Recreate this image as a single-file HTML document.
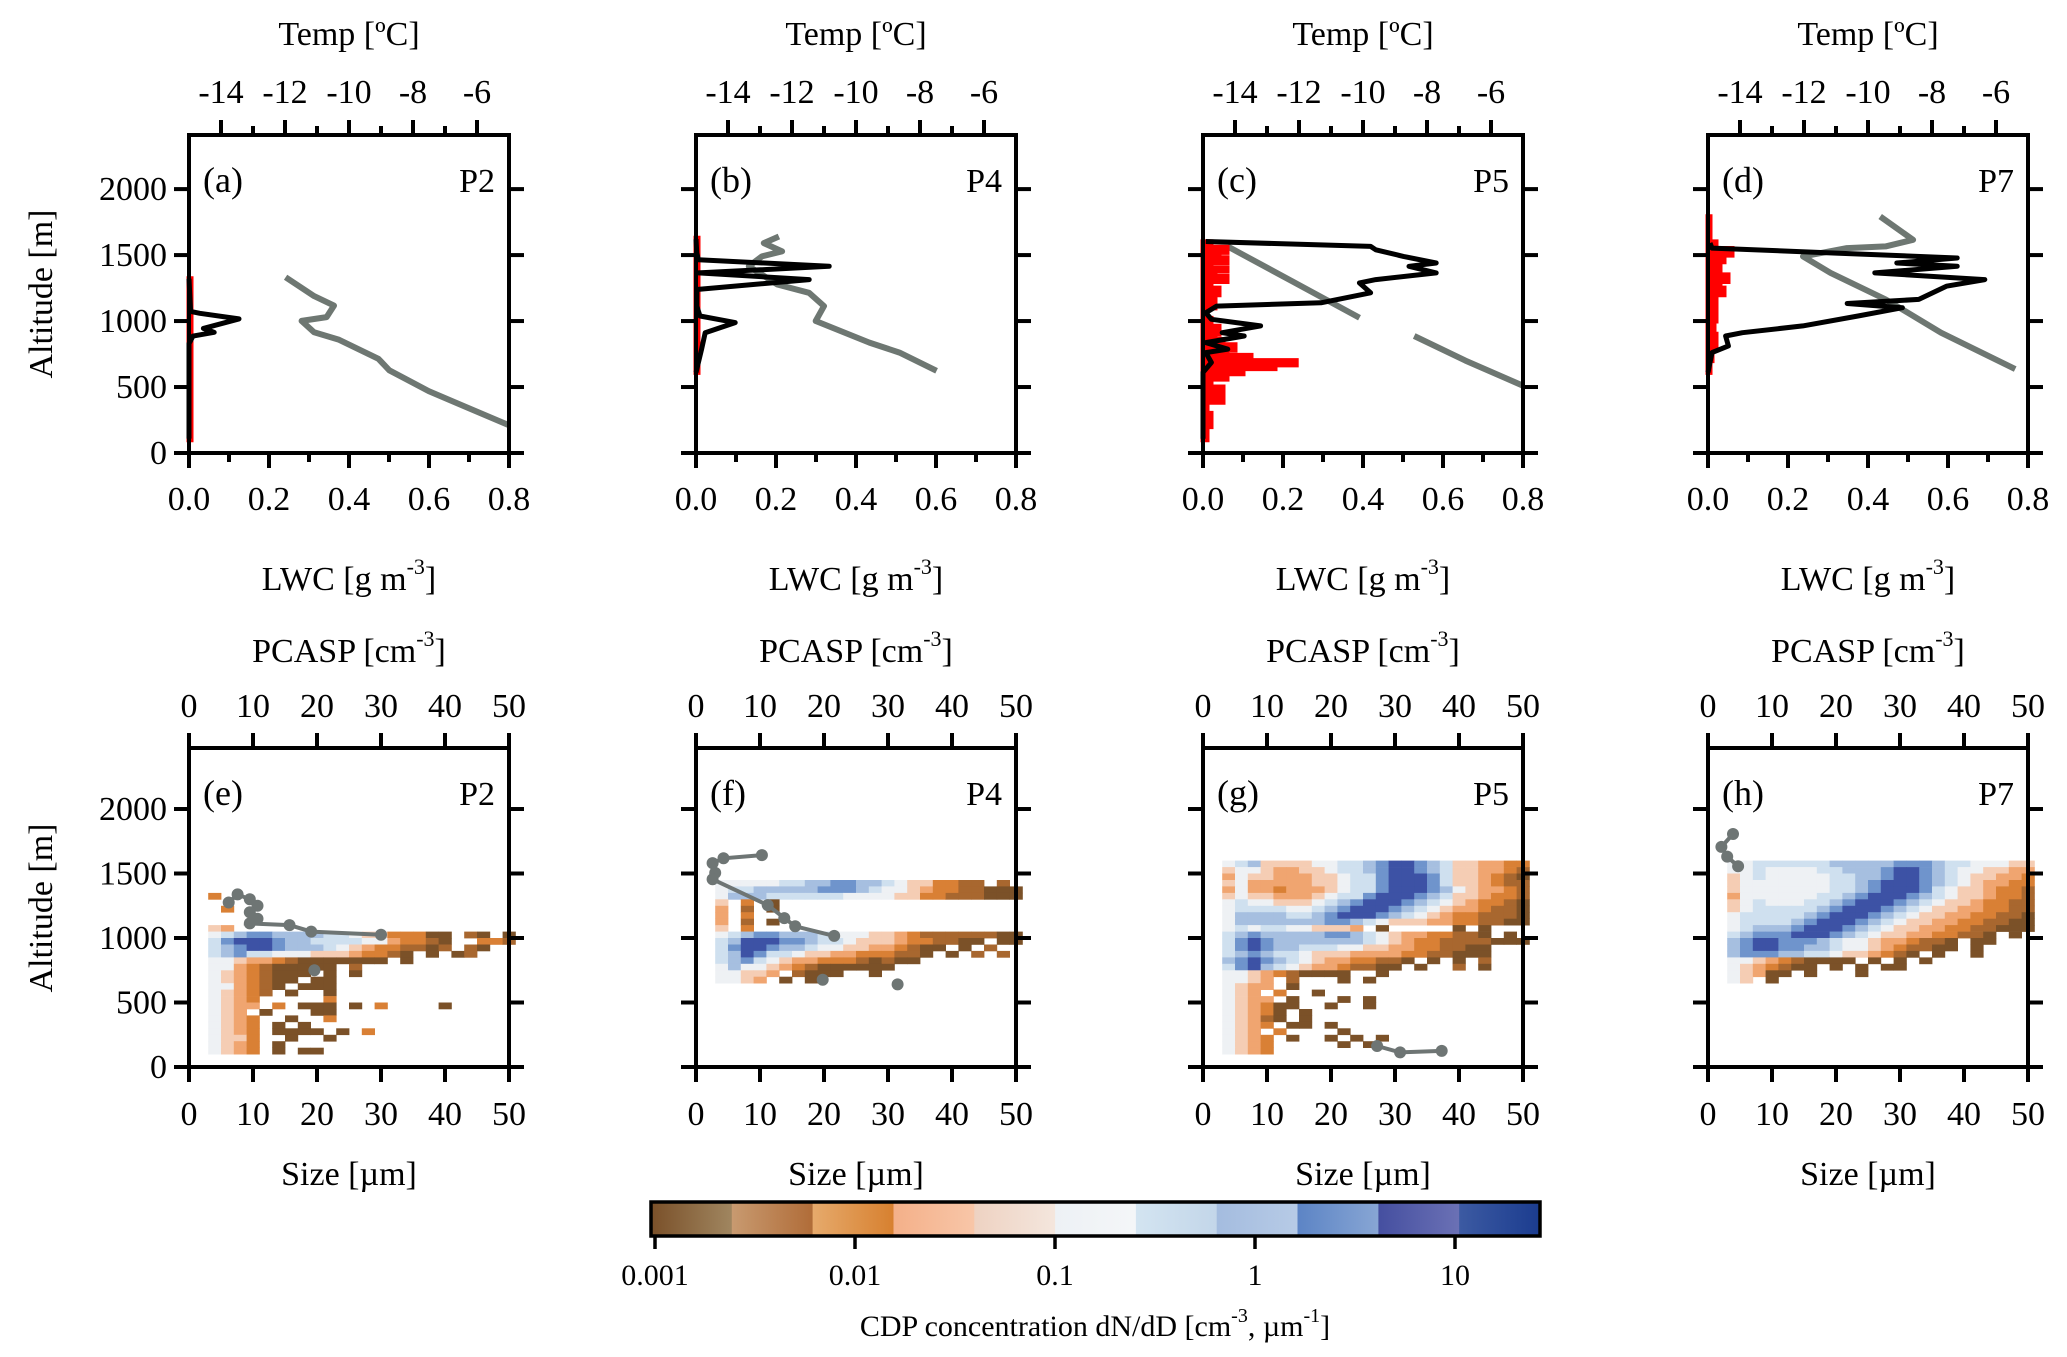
<!DOCTYPE html>
<html><head><meta charset="utf-8">
<style>
html,body{margin:0;padding:0;background:#fff;}
svg{display:block;}
svg text{fill:#000;font-family:"Liberation Serif","DejaVu Serif",serif;}
</style></head>
<body>
<svg id="fig" width="2067" height="1357" viewBox="0 0 2067 1357" xmlns="http://www.w3.org/2000/svg" font-family="Liberation Serif, serif">
<defs id="defs"></defs>
</svg>
<script>
// ---------- DATA ----------
const panelIds = ['a','b','c','d'];
const flightIds = ['P2','P4','P5','P7'];
const lwcTicks = ['0.0','0.2','0.4','0.6','0.8'];
const tempTicks = ['-14','-12','-10','-8','-6'];
const altTicks = ['0','500','1000','1500','2000'];
const sizeTicks = ['0','10','20','30','40','50'];
const cbarTicks = ['0.001','0.01','0.1','1','10'];

const lwcAltA = [109,829,886,915,944,1016,1059,1073,1320];
const lwcValA = [0,0,0.01,0.063,0.036,0.125,0.027,0.004,0];
const lwcAltB = [611,787,912,988,1038,1113,1239,1314,1365,1415,1465,1515,1620];
const lwcValB = [0,0.014,0.023,0.098,0.01,0.002,0.002,0.283,0.006,0.333,0.006,0.002,0];
const lwcAltC = [108,611,686,761,787,837,887,912,963,1013,1063,1113,1138,1214,1289,1314,1365,1415,1440,1490,1540,1566,1603];
const lwcValC = [0,0,0.021,0.007,0.062,0.007,0.103,0.048,0.144,0.021,0.007,0.034,0.295,0.419,0.391,0.432,0.583,0.515,0.583,0.501,0.432,0.419,0.007];
const lwcAltD = [611,761,812,887,912,963,1038,1101,1133,1164,1264,1314,1365,1415,1440,1478,1515,1553,1591];
const lwcValD = [0,0.01,0.051,0.044,0.086,0.237,0.375,0.486,0.348,0.527,0.596,0.692,0.417,0.623,0.472,0.623,0.32,0.01,0.005];

const redAltA = [100,130,870,1320];
const redValA = [0.005,0.005,0.005,0.005];
const redAltB = [611,1628];
const redValB = [0.005,0.005];
const redAltC = [100,200,300,384,420,450,500,560,600,640,668,700,740,780,820,860,900,960,1020,1100,1200,1250,1300,1340,1380,1400,1440,1480,1520,1560,1600];
const redValC = [0.01,0.02,0.01,0.05,0.02,0.05,0.02,0.06,0.1,0.18,0.233,0.12,0.06,0.08,0.05,0.03,0.04,0.02,0.01,0.03,0.04,0.02,0.06,0.03,0.06,0.02,0.06,0.04,0.06,0.02,0.01];
const redAltD = [611,700,800,900,1000,1100,1200,1250,1300,1350,1400,1450,1500,1550,1600,1790];
const redValD = [0.005,0.01,0.02,0.015,0.02,0.02,0.04,0.03,0.05,0.03,0.03,0.04,0.06,0.02,0.005,0.005];

const tAltA = [1332,1189,1117,1030,1001,915,858,714,627,469,354,210];
const tValA = [-11.98,-11.09,-10.47,-10.70,-11.48,-11.09,-10.31,-9.08,-8.74,-7.51,-6.40,-5.0];
const tAltB = [1641,1591,1528,1490,1415,1277,1214,1113,1000,837,761,623];
const tValB = [-12.41,-12.88,-12.31,-12.94,-13.35,-12.46,-11.47,-11.0,-11.26,-9.58,-8.64,-7.48];
const tAltC = [1566,1300,1025,null,887,700,510];
const tValC = [-14.23,-12.2,-10.11,null,-8.40,-6.8,-5.0];
const tAltD = [1792,1616,1566,1553,1490,1365,1164,912,636];
const tValD = [-9.62,-8.59,-9.45,-10.66,-12.03,-11.17,-9.45,-7.72,-5.40];

const pcAltE = [1275,1338,1300,1250,1200,1150,1113,1100,1050,1025];
const pcValE = [6.2,7.6,9.5,10.7,9.5,10.7,9.5,15.7,19.1,30.0];
const pcAltE2 = [750];
const pcValE2 = [19.6];
const pcAltF = [1643,1618,1581,1505,1455,1255,1154,1091,1016];
const pcValF = [10.3,4.3,2.6,3.0,2.6,11.2,13.8,15.5,21.6];
const pcAltF2 = [677,640];
const pcValF2 = [19.8,31.5];
const pcAltG = [163,113,125];
const pcValG = [27.2,30.8,37.3];
const pcAltH = [1806,1706,1631,1556];
const pcValH = [3.9,2.1,3.0,4.7];

// CDP heatmaps: rows top-down (50 m each), char = level per 2 µm bin from 3 µm
const hmTopE = 1350;
const hmRowsE = ["2.......................","........................",".2......................","........................","........................","43......................",
"5678877776654422200.10.0","6899987766665532210..221","6789987776543221101.10..","6786655544432210.0.01...","55433210000000.0........",
"5532100000.1............","54321000.0.0............","5432100.00..............","553210.000..............","54321.0..0..............",
"5432.....2..............","5433.2.000.0.2....0.....","543.0...00..............","5432..0..2..............","5432.0.0................",
"5432.0000.0.2...........","5442..0..0..............","5432.0..................","5432.0.00..............."];
const hmTopF = 1450;
const hmRowsF = ["555556677887765442211.1.","566777778887655432211000","577766666655554422111000","4.2.0...................","3.1.0...................",
"3.2.....................","3.1.0...................","4.2.....................","567887776555443211111100","679998876654443221100.00",
"689987765544332100.0.1..","67986654433222110.0.1.1.","6786543322210100........","57554321000000..........","55443.1000..0...........","5543.0.0................"];
const hmTopG = 1600;
const hmRowsG = ["567444455667899876443322","455433445667899876443321","354433344566899986443210","453333344566899986443211",
"353323334566899987543321","454433345668999876443221","565544456789998765432210","566665567899987654332110",
"577776678999876543221110","577777778876544433221100","56566554443.0.....0.0...","678777778876543322110.0.",
"689877777776543221111000","689877666554433221100...","678766544433332211000...","789876543322110.0.0.1..",
"68976543321100.0..1.0...","5543210000..0...........","5543.1...0.0............","5433.0..................",
"543.2..0................","5433.0...0.0............","543200..0..0............","54320.0.................",
"54310.0.................","5432.00.0...............","543.2....0..............","5432.0..0.0.0...........",
"5432.....0.0............","5432...................."];
const hmTopH = 1600;
const hmRowsH = ["556666667777788876655544","556555566777899876554433","456555556677899876544332","455555556678999876543322",
"455555556678999865443221","355555566789998765443221","456555667899987654432211","456666678999876544332211",
"566666789998765443322110","566667899987654433221100","567778999876544332211000","678889998765443322110.0.",
"789988876554332110.00...","789988776554321100.0....","788877665443210.0..0....","5543210000.0.0.0........",
"5432100.0.0.00..........","54300.0...0.............","54.0...................."];

// ---------- LAYOUT ----------
const svg = document.getElementById('fig');
const NS = 'http://www.w3.org/2000/svg';
const colX = [189, 696, 1203, 1708];
const PW = 320;
const topY0 = 135, topY1 = 453, topAltMax = 2410;
const botY0 = 748, botY1 = 1067, botAltMax = 2473;
const levelColors = ['#7b5128','#a8672f','#d98035','#f0a570','#f5cdb4','#eef1f4','#cfe0ef','#a6bfe0','#6f94cc','#3d52a5','#1e3a8f'];
const FONT = '"Liberation Serif", "DejaVu Serif", serif';

function mk(tag, attrs, parent){
  const e = document.createElementNS(NS, tag);
  for (const k in attrs) e.setAttribute(k, attrs[k]);
  if (tag === 'text') e.style.fontFamily = FONT;
  (parent||svg).appendChild(e);
  return e;
}
function txt(s, x, y, size, anchor, parent){
  const t = mk('text', {x:x, y:y, 'font-size':size, 'text-anchor':anchor||'middle'}, parent);
  t.textContent = s;
  return t;
}

function axisFrame(g, x0, y0, x1, y1, altMax, showYLabels){
  const fr = mk('rect', {x:x0, y:y0, width:x1-x0, height:y1-y0, fill:'none', stroke:'#000', 'stroke-width':4}, g);
  
  
  altTicks.forEach(function(lab){
    const v = +lab;
    const y = y1 - v/altMax*(y1-y0);
    mk('line', {x1:x0-15, x2:x0, y1:y, y2:y, stroke:'#000', 'stroke-width':4}, g);
    mk('line', {x1:x1, x2:x1+15, y1:y, y2:y, stroke:'#000', 'stroke-width':4}, g);
    if (showYLabels) {
      const t = txt(lab, 167, y+11, 34, 'end', g);
      
      
    }
  });
}

// ---------- TOP ROW ----------
const lwcAlts = [lwcAltA,lwcAltB,lwcAltC,lwcAltD], lwcVals = [lwcValA,lwcValB,lwcValC,lwcValD];
const redAlts = [redAltA,redAltB,redAltC,redAltD], redVals = [redValA,redValB,redValC,redValD];
const tAlts = [tAltA,tAltB,tAltC,tAltD], tVals = [tValA,tValB,tValC,tValD];

for (let p=0;p<4;p++){
  const x0 = colX[p], x1 = x0+PW;
  const g = mk('g', {});
  
  
  const xl = v => x0 + v/0.8*PW;
  const xt = v => x0 + (v+15)/10*PW;
  const ya = v => topY1 - v/topAltMax*(topY1-topY0);

  let d = '', pen = false;
  for (let i=0;i<tAlts[p].length;i++){
    if (tAlts[p][i]===null){ pen=false; continue; }
    d += (pen?'L':'M') + xt(tVals[p][i]).toFixed(1) + ' ' + ya(tAlts[p][i]).toFixed(1) + ' ';
    pen = true;
  }
  const tl = mk('path', {d:d, fill:'none', stroke:'#6e7772', 'stroke-width':6, 'stroke-linejoin':'round'}, g);
  
  

  let dr = 'M'+x0+' '+ya(redAlts[p][0]).toFixed(1)+' ';
  for (let i=0;i<redAlts[p].length;i++){
    const x = xl(redVals[p][i]), y = ya(redAlts[p][i]);
    dr += 'V'+y.toFixed(1)+' H'+x.toFixed(1)+' ';
  }
  dr += 'V'+ya(redAlts[p][redAlts[p].length-1]).toFixed(1)+' H'+x0+' Z';
  const rl = mk('path', {d:dr, fill:'#ff0000', stroke:'#ff0000', 'stroke-width':5, 'stroke-linejoin':'miter'}, g);
  
  

  let dl = '';
  for (let i=0;i<lwcAlts[p].length;i++){
    dl += (i?'L':'M') + xl(lwcVals[p][i]).toFixed(1) + ' ' + ya(lwcAlts[p][i]).toFixed(1) + ' ';
  }
  const ll = mk('path', {d:dl, fill:'none', stroke:'#000', 'stroke-width':5, 'stroke-linejoin':'round'}, g);
  
  

  axisFrame(g, x0, topY0, x1, topY1, topAltMax, p===0);

  for (let k=0;k<=8;k++){
    const x = xl(k/10), len = (k%2===0)?15:9;
    mk('line', {x1:x, x2:x, y1:topY1, y2:topY1+len, stroke:'#000', 'stroke-width':4}, g);
  }
  lwcTicks.forEach(function(lab){
    const t = txt(lab, xl(+lab), 510, 34, 'middle', g);
    
    
  });
  for (let v=-14; v<=-6; v++){
    const x = xt(v), len = (v%2===0)?15:9;
    mk('line', {x1:x, x2:x, y1:topY0-len, y2:topY0, stroke:'#000', 'stroke-width':4}, g);
  }
  tempTicks.forEach(function(lab){
    const t = txt(lab, xt(+lab), 103, 34, 'middle', g);
    
    
  });
  const tt = txt('Temp [ºC]', (x0+x1)/2, 45, 34, 'middle', g);
  
  
  const lt = mk('text', {x:(x0+x1)/2, y:590, 'font-size':34, 'text-anchor':'middle'}, g);
  lt.innerHTML = 'LWC [g m<tspan dy="-16" font-size="22">-3</tspan><tspan dy="16">]</tspan>';
  
  
  const pl = txt('('+panelIds[p]+')', x0+14, topY0+57, 36, 'start', g);
  
  
  const fl = txt(flightIds[p], x1-14, topY0+57, 34, 'end', g);
  
  
}

// ---------- BOTTOM ROW ----------
const hmTops = [hmTopE,hmTopF,hmTopG,hmTopH], hmRows = [hmRowsE,hmRowsF,hmRowsG,hmRowsH];
const pcAlts = [pcAltE,pcAltF,pcAltG,pcAltH], pcVals = [pcValE,pcValF,pcValG,pcValH];
const pcAlts2 = [pcAltE2,pcAltF2,[],[]], pcVals2 = [pcValE2,pcValF2,[],[]];
const botIds = ['e','f','g','h'];

for (let p=0;p<4;p++){
  const x0 = colX[p], x1 = x0+PW;
  const g = mk('g', {});
  
  
  const xs = v => x0 + v/50*PW;
  const ya = v => botY1 - v/botAltMax*(botY1-botY0);

  const rows = hmRows[p];
  for (let r=0;r<rows.length;r++){
    const altTop = hmTops[p] - r*50;
    const s = rows[r];
    for (let i=0;i<Math.min(s.length,24);i++){
      const ch = s[i];
      if (ch==='.') continue;
      const lev = ch==='A'?10:parseInt(ch,10);
      const sz0 = 3+2*i;
      const yTop = ya(altTop), yBot = ya(altTop-50);
      const c = mk('rect', {x:xs(sz0).toFixed(1), y:yTop.toFixed(1), width:(xs(sz0+2)-xs(sz0)+0.4).toFixed(1), height:(yBot-yTop+0.4).toFixed(1), fill:levelColors[lev]}, g);
      
      
    }
  }

  function pcSeries(alts, vals, line){
    if (!alts.length) return;
    if (line){
      let d='';
      for (let i=0;i<alts.length;i++) d += (i?'L':'M') + xs(vals[i]).toFixed(1)+' '+ya(alts[i]).toFixed(1)+' ';
      const pl = mk('path', {d:d, fill:'none', stroke:'#6e7574', 'stroke-width':4}, g);
      
      
    }
    for (let i=0;i<alts.length;i++){
      const dot = mk('circle', {cx:xs(vals[i]).toFixed(1), cy:ya(alts[i]).toFixed(1), r:6, fill:'#6e7574'}, g);
      
      
    }
  }
  pcSeries(pcAlts[p], pcVals[p], true);
  pcSeries(pcAlts2[p], pcVals2[p], false);

  axisFrame(g, x0, botY0, x1, botY1, botAltMax, p===0);

  sizeTicks.forEach(function(lab){
    const x = xs(+lab);
    mk('line', {x1:x, x2:x, y1:botY1, y2:botY1+15, stroke:'#000', 'stroke-width':4}, g);
    mk('line', {x1:x, x2:x, y1:botY0-15, y2:botY0, stroke:'#000', 'stroke-width':4}, g);
    const t1 = txt(lab, x, 1125, 34, 'middle', g);
    
    
    const t2 = txt(lab, x, 717, 34, 'middle', g);
    
    
  });
  const pt = mk('text', {x:(x0+x1)/2, y:662, 'font-size':34, 'text-anchor':'middle'}, g);
  pt.innerHTML = 'PCASP [cm<tspan dy="-16" font-size="22">-3</tspan><tspan dy="16">]</tspan>';
  
  
  const st = txt('Size [µm]', (x0+x1)/2, 1185, 34, 'middle', g);
  
  
  const pl = txt('('+botIds[p]+')', x0+14, botY0+57, 36, 'start', g);
  
  
  const fl = txt(flightIds[p], x1-14, botY0+57, 34, 'end', g);
  
  
}

[[44,294],[44,908]].forEach(function(pos){
  const t = mk('text', {x:pos[0], y:pos[1], 'font-size':34, 'text-anchor':'middle', transform:'rotate(-90 '+pos[0]+' '+pos[1]+')', 'dominant-baseline':'middle'});
  t.textContent = 'Altitude [m]';
  
  
});

// ---------- COLORBAR ----------
const segA = ['#7a5029','#c89a70','#e6aa6c','#f4b089','#eed2c2','#edf1f5','#d3e4f1','#a4bcdf','#5c84c5','#454fa0','#3c5aa2'];
const segB = ['#a08660','#b06c38','#d7802f','#f8c6a8','#f4e6dd','#f4f6f8','#c3d6e9','#b7cbe6','#88a6d4','#6b71b5','#1b3c8f'];
const cbX0 = 651, cbX1 = 1540, cbY0 = 1202, cbY1 = 1236;
const defs = document.getElementById('defs');
const segW = (cbX1-cbX0)/segA.length;
const cg = mk('g', {});


for (let i=0;i<segA.length;i++){
  const lg = mk('linearGradient', {id:'sg'+i, x1:0, x2:1, y1:0, y2:0}, defs);
  mk('stop', {offset:0, 'stop-color':segA[i]}, lg);
  mk('stop', {offset:1, 'stop-color':segB[i]}, lg);
  const r = mk('rect', {x:(cbX0+i*segW).toFixed(1), y:cbY0, width:(segW+0.5).toFixed(1), height:cbY1-cbY0, fill:'url(#sg'+i+')'}, cg);
  
  
}
mk('rect', {x:cbX0, y:cbY0, width:cbX1-cbX0, height:cbY1-cbY0, fill:'none', stroke:'#000', 'stroke-width':3.5}, cg);
cbarTicks.forEach(function(lab){
  const x = 655 + (Math.log10(+lab)+3)*200;
  mk('line', {x1:x, x2:x, y1:cbY1, y2:cbY1+13, stroke:'#000', 'stroke-width':3.5}, cg);
  const t = txt(lab, x, 1285, 30, 'middle', cg);
  
  
});
const ct = mk('text', {x:1095, y:1336, 'font-size':30, 'text-anchor':'middle'}, cg);
ct.innerHTML = 'CDP concentration dN/dD [cm<tspan dy="-14" font-size="20">-3</tspan><tspan dy="14">, µm</tspan><tspan dy="-14" font-size="20">-1</tspan><tspan dy="14">]</tspan>';


</script>
</body></html>
